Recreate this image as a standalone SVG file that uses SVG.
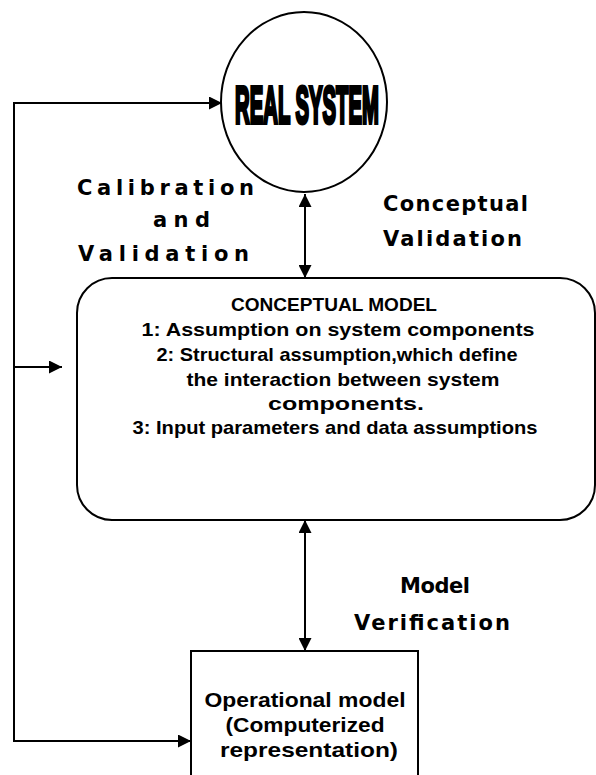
<svg xmlns="http://www.w3.org/2000/svg" width="596" height="775" viewBox="0 0 596 775">
<defs>
<marker id="ah" viewBox="0 0 10 10" refX="10" refY="5" markerWidth="13" markerHeight="13" markerUnits="userSpaceOnUse" orient="auto-start-reverse">
<path d="M0,0 L10,5 L0,10 Z" fill="#000"/>
</marker>
<style>
.ln{fill:none;stroke:#000;stroke-width:2}
.shape{fill:#fff;stroke:#000;stroke-width:2}
.lbl{font-family:"DejaVu Sans",sans-serif;font-weight:bold;font-size:21px;fill:#000}
.cm{font-family:"Liberation Sans",Arial,sans-serif;font-weight:bold;font-size:19px;fill:#000;text-anchor:middle}
.op{font-family:"Liberation Sans",Arial,sans-serif;font-weight:bold;font-size:21px;fill:#000;text-anchor:middle}
</style>
</defs>
<rect width="596" height="775" fill="#fff"/>
<g id="connectors">
<polyline class="ln" points="222,103 14,103 14,741 191,741" marker-start="url(#ah)" marker-end="url(#ah)"/>
<line class="ln" x1="14" y1="367" x2="62" y2="367" marker-end="url(#ah)"/>
<line class="ln" x1="305" y1="194" x2="305" y2="278" marker-start="url(#ah)" marker-end="url(#ah)"/>
<line class="ln" x1="305" y1="520" x2="305" y2="651" marker-start="url(#ah)" marker-end="url(#ah)"/>
</g>
<g id="real-system">
<ellipse class="shape" cx="304" cy="102" rx="83" ry="90"/>
<text transform="translate(307,123) scale(0.39,1)" x="0" y="0" font-family="Liberation Sans,sans-serif" font-weight="bold" font-size="52" text-anchor="middle" stroke="#000" stroke-width="4">REAL SYSTEM</text>
</g>
<g id="labels">
<text class="lbl" x="77" y="195" textLength="177" lengthAdjust="spacing">Calibration</text>
<text class="lbl" x="153" y="227" textLength="57" lengthAdjust="spacing">and</text>
<text class="lbl" x="78" y="261" textLength="171" lengthAdjust="spacing">Validation</text>
<text class="lbl" x="383" y="211" textLength="145" lengthAdjust="spacing">Conceptual</text>
<text class="lbl" x="383" y="246" textLength="139" lengthAdjust="spacing">Validation</text>
<text class="lbl" x="400" y="593" textLength="70" lengthAdjust="spacing">Model</text>
<text class="lbl" x="354" y="630" textLength="156" lengthAdjust="spacing">Verification</text>
</g>
<g id="conceptual-model">
<rect class="shape" x="77" y="278" width="518" height="242" rx="35" ry="35"/>
<text class="cm" x="334" y="311" font-weight="normal" textLength="206" lengthAdjust="spacingAndGlyphs">CONCEPTUAL MODEL</text>
<text class="cm" x="338" y="336" textLength="393" lengthAdjust="spacingAndGlyphs">1: Assumption on system components</text>
<text class="cm" x="337" y="361" textLength="361" lengthAdjust="spacingAndGlyphs">2: Structural assumption,which define</text>
<text class="cm" x="343" y="386" textLength="313" lengthAdjust="spacingAndGlyphs">the interaction between system</text>
<text class="cm" x="346" y="410" textLength="156" lengthAdjust="spacingAndGlyphs">components.</text>
<text class="cm" x="335" y="434" textLength="405" lengthAdjust="spacingAndGlyphs">3: Input parameters and data assumptions</text>
</g>
<g id="operational-model">
<rect class="shape" x="191" y="651" width="227" height="140"/>
<text class="op" x="305" y="707" textLength="201" lengthAdjust="spacingAndGlyphs">Operational  model</text>
<text class="op" x="305" y="732" textLength="159" lengthAdjust="spacingAndGlyphs">(Computerized</text>
<text class="op" x="309" y="757" textLength="178" lengthAdjust="spacingAndGlyphs">representation)</text>
</g>
</svg>
